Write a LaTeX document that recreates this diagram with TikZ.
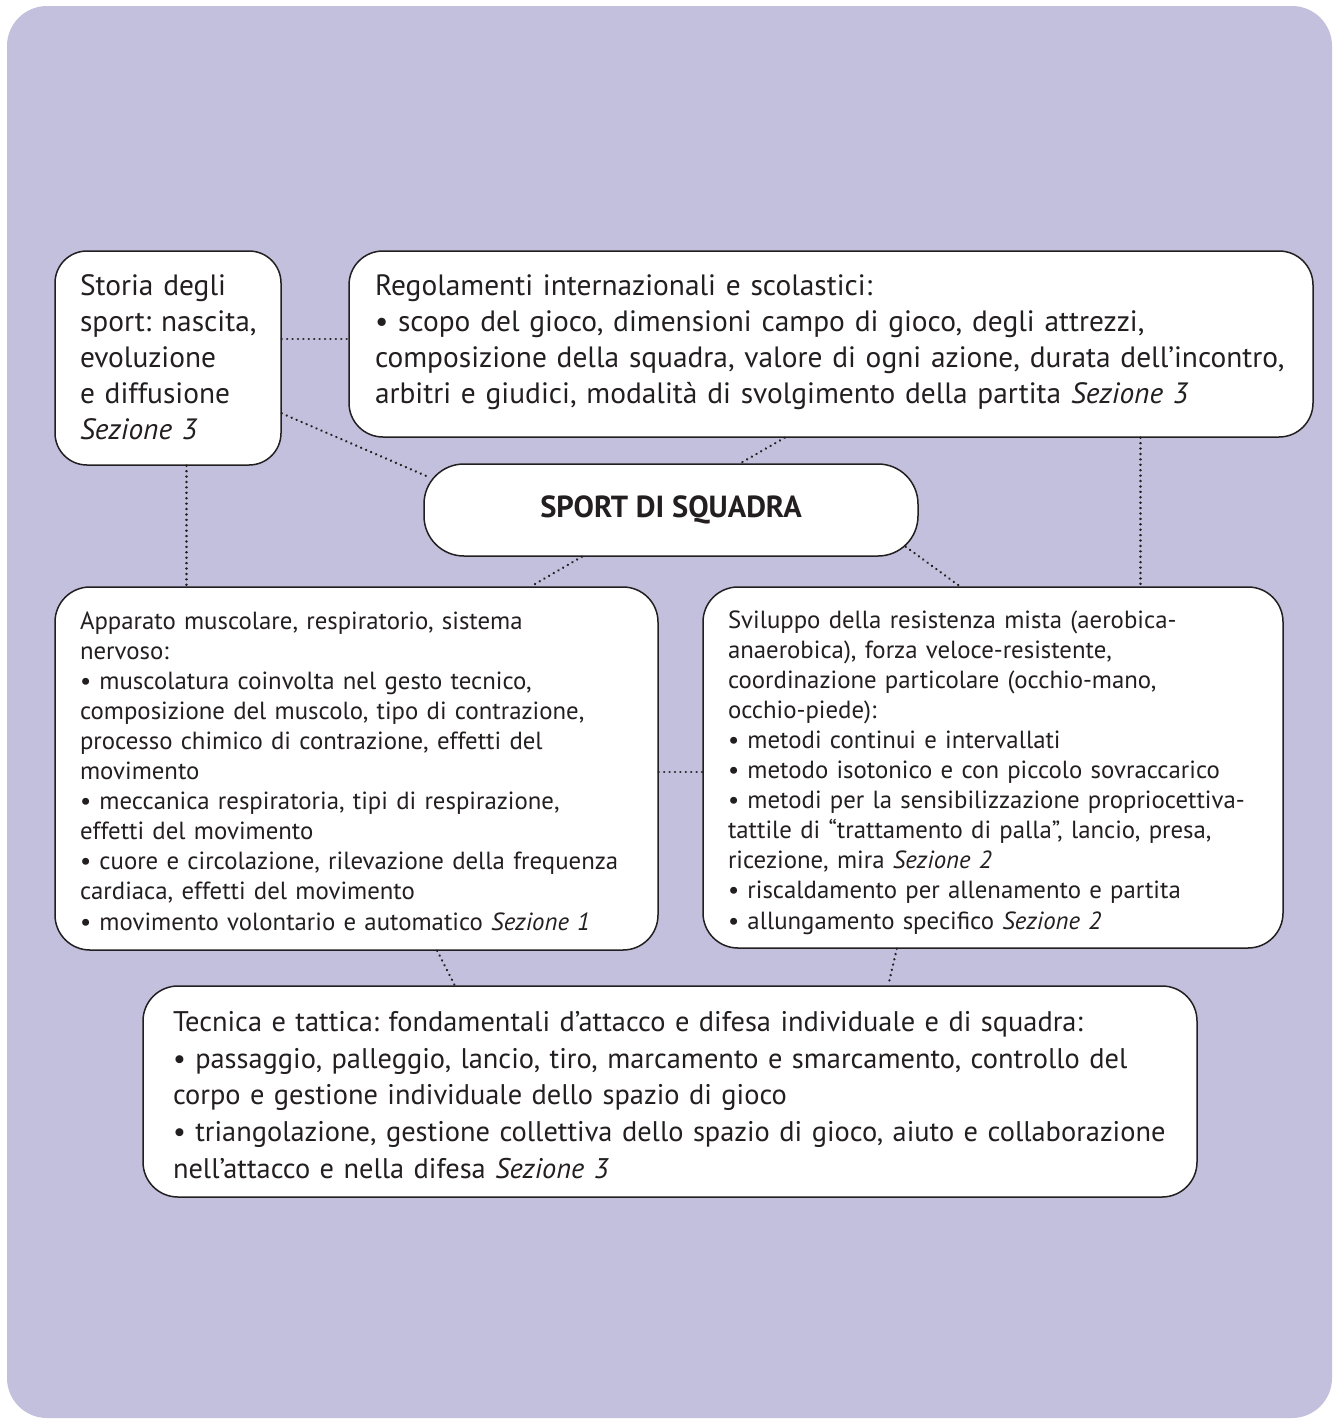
\documentclass[tikz,border=0pt]{standalone}
\usepackage{fontspec}
\setmainfont{PT Sans}
\usetikzlibrary{calc}
\definecolor{bgcol}{RGB}{195,192,221}
\definecolor{ink}{RGB}{35,31,32}
\newcommand{\boxlines}[2]{\raisebox{#1}[\height][\depth]{\begin{tabular}{@{}l@{}}#2\end{tabular}}}
\tikzset{
  box/.style={draw=ink, fill=white, line width=1.5pt, rounded corners=32pt, inner ysep=0pt, align=left, text=ink},
  bigtext/.style={font=\frenchspacing\fontsize{29.4}{36}\selectfont},
  midtext/.style={font=\frenchspacing\fontsize{24.8}{30.1}\selectfont},
  dots/.style={draw=ink, line width=2.6pt, line cap=round, dash pattern=on 0.01pt off 5.4pt},
}
\begin{document}
\begin{tikzpicture}[x=1pt,y=-1pt]
\useasboundingbox (0,0) rectangle (1339,1419);
\fill[bgcol, rounded corners=40pt] (7,6) rectangle (1332,1418);

\node[box, bigtext, minimum width=226pt, minimum height=214pt, inner xsep=25pt, text width=176pt] (storia) at (168,358)
 {\boxlines{-2pt}{Storia degli\\ sport: nascita,\\ evoluzione\\ e diffusione\\ \textit{Sezione 3}}};

\node[box, bigtext, rounded corners=34pt, minimum width=964pt, minimum height=186pt, inner xsep=26pt, text width=912pt] (reg) at (831,344)
 {\boxlines{2pt}{Regolamenti internazionali e scolastici:\\
 \textbullet{} scopo del gioco, dimensioni campo di gioco, degli attrezzi,\\
 composizione della squadra, valore di ogni azione, durata dell’incontro,\\
 arbitri e giudici, modalità di svolgimento della partita \textit{Sezione 3}}};

\node[box, rounded corners=40pt, minimum width=494pt, minimum height=92pt, align=center, font=\fontsize{30.5}{34}\selectfont\bfseries] (sport) at (671,510) {SPORT DI SQUADRA};

\node[box, midtext, rounded corners=35pt, minimum width=603pt, minimum height=363pt, inner xsep=25pt, text width=553pt] (app) at (356.5,768.5)
 {\boxlines{-5pt}{Apparato muscolare, respiratorio, sistema\\
 nervoso:\\
 \textbullet{} muscolatura coinvolta nel gesto tecnico,\\
 composizione del muscolo, tipo di contrazione,\\
 processo chimico di contrazione, effetti del\\
 movimento\\
 \textbullet{} meccanica respiratoria, tipi di respirazione,\\
 effetti del movimento\\
 \textbullet{} cuore e circolazione, rilevazione della frequenza\\
 cardiaca, effetti del movimento\\
 \textbullet{} movimento volontario e automatico \textit{Sezione 1}}};

\node[box, midtext, rounded corners=35pt, minimum width=580pt, minimum height=361pt, inner xsep=25pt, text width=530pt] (svil) at (993,767.5)
 {\boxlines{-5pt}{Sviluppo della resistenza mista (aerobica-\\
 anaerobica), forza veloce-resistente,\\
 coordinazione particolare (occhio-mano,\\
 occhio-piede):\\
 \textbullet{} metodi continui e intervallati\\
 \textbullet{} metodo isotonico e con piccolo sovraccarico\\
 \textbullet{} metodi per la sensibilizzazione propriocettiva-\\
 tattile di “trattamento di palla”, lancio, presa,\\
 ricezione, mira \textit{Sezione 2}\\
 \textbullet{} riscaldamento per allenamento e partita\\
 \textbullet{} allungamento specifico \textit{Sezione 2}}};

\node[box, font=\frenchspacing\fontsize{28.4}{36.7}\selectfont, rounded corners=35pt, minimum width=1054pt, minimum height=211pt, inner xsep=30pt, text width=994pt] (tec) at (670,1091.5)
 {\boxlines{-6pt}{Tecnica e tattica: fondamentali d’attacco e difesa individuale e di squadra:\\
 \textbullet{} passaggio, palleggio, lancio, tiro, marcamento e smarcamento, controllo del\\
 corpo e gestione individuale dello spazio di gioco\\
 \textbullet{} triangolazione, gestione collettiva dello spazio di gioco, aiuto e collaborazione\\
 nell’attacco e nella difesa \textit{Sezione 3}}};

% connectors
\coordinate (s1) at ($(storia.north east)!0.411!(storia.south east)$);
\draw[dots] (s1) -- (s1 -| reg.west);
\draw[dots] ($(storia.north east)!0.757!(storia.south east)$) -- ($(sport.north west)+(6,14)$);
\coordinate (s2) at ($(storia.south west)!0.58!(storia.south east)$);
\draw[dots] (s2) -- (s2 |- app.north);
\draw[dots] ($(reg.south west)!0.452!(reg.south east)$) -- ($(sport.north west)!0.64!(sport.north east)$);
\coordinate (r1) at ($(reg.south west)!0.8205!(reg.south east)$);
\draw[dots] (r1) -- (r1 |- svil.north);
\draw[dots] ($(sport.south west)!0.32!(sport.south east)$) -- ($(app.north west)!0.789!(app.north east)$);
\draw[dots] ($(sport.south east)+(-13,-10)$) -- ($(svil.north west)!0.443!(svil.north east)$);
\coordinate (a1) at ($(app.north east)!0.51!(app.south east)$);
\draw[dots] (a1) -- (a1 -| svil.west);
\draw[dots] ($(app.south west)!0.6335!(app.south east)$) -- ($(tec.north west)!0.296!(tec.north east)$);
\draw[dots] ($(svil.south west)!0.3345!(svil.south east)$) -- ($(tec.north west)!0.7068!(tec.north east)$);
\end{tikzpicture}
\end{document}
